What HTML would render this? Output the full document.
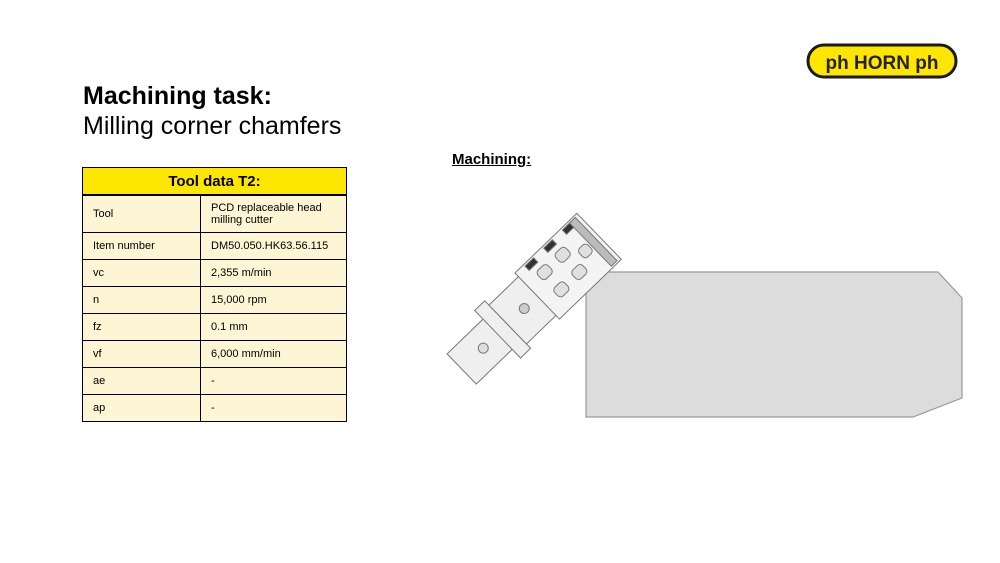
<!DOCTYPE html>
<html><head><style>
body{margin:0;width:1000px;height:563px;background:#fff;font-family:"Liberation Sans",sans-serif;position:relative;overflow:hidden}
.t1{position:absolute;left:83px;top:82px;font-size:25px;font-weight:bold;color:#000}
.t2{position:absolute;left:83px;top:112px;font-size:25px;color:#000}
.mach{position:absolute;left:452px;top:151px;font-size:15px;font-weight:bold;text-decoration:underline}
table{position:absolute;left:82px;top:167px;border-collapse:collapse;width:265px;font-size:11px}
td{border:1px solid #000;padding:0 0 0 10px;background:#fdf5d4;height:26px;line-height:12px}
th{border:1px solid #000;border-bottom:2px solid #000;background:#fde700;height:24px;font-size:15px;font-weight:bold}
td.a{width:107px}
</style></head><body>
<svg width="1000" height="563" style="position:absolute;left:0;top:0">
<rect x="808" y="45" width="148" height="32" rx="16" fill="#ffe600" stroke="#1a1a1a" stroke-width="3"/>
<text x="882" y="69" text-anchor="middle" font-family="Liberation Sans" font-weight="bold" font-size="19" fill="#222">ph HORN ph</text>
<polygon points="586,272 938,272 962,298 962,398 913,417 586,417" fill="#dcdcdc" stroke="#999" stroke-width="1.2"/>
<g transform="translate(530,303) rotate(-44)" stroke="#777" stroke-width="1" fill="#efefef">
<rect x="-95" y="-21" width="52" height="42"/>
<rect x="-45" y="-33" width="14" height="66"/>
<rect x="-31" y="-27" width="42" height="54"/>
<rect x="10" y="-32" width="86" height="64" fill="#f4f4f4"/>
<circle cx="-65" cy="0" r="5" fill="#ddd"/>
<circle cx="-8" cy="0" r="5" fill="#ccc"/>
<g fill="#333">
<rect x="22" y="-30" width="12" height="6"/><rect x="48" y="-30" width="12" height="6"/><rect x="74" y="-30" width="12" height="6"/>
<rect x="84" y="-30" width="8" height="60" fill="#bbb"/>
</g>
<g fill="#e0e0e0">
<rect x="25" y="-18" width="14" height="12" rx="4"/><rect x="50" y="-18" width="14" height="12" rx="4"/><rect x="25" y="6" width="14" height="12" rx="4"/><rect x="50" y="6" width="14" height="12" rx="4"/><rect x="70" y="-5" width="12" height="12" rx="4"/>
</g>
</g>
</svg>
<div class="t1">Machining task:</div>
<div class="t2">Milling corner chamfers</div>
<div class="mach">Machining:</div>
<table>
<tr><th colspan="2">Tool data T2:</th></tr>
<tr><td class="a" style="height:36px">Tool</td><td>PCD replaceable head<br>milling cutter</td></tr>
<tr><td class="a">Item number</td><td>DM50.050.HK63.56.115</td></tr>
<tr><td class="a">vc</td><td>2,355 m/min</td></tr>
<tr><td class="a">n</td><td>15,000 rpm</td></tr>
<tr><td class="a">fz</td><td>0.1 mm</td></tr>
<tr><td class="a">vf</td><td>6,000 mm/min</td></tr>
<tr><td class="a">ae</td><td>-</td></tr>
<tr><td class="a">ap</td><td>-</td></tr>
</table>
</body></html>
